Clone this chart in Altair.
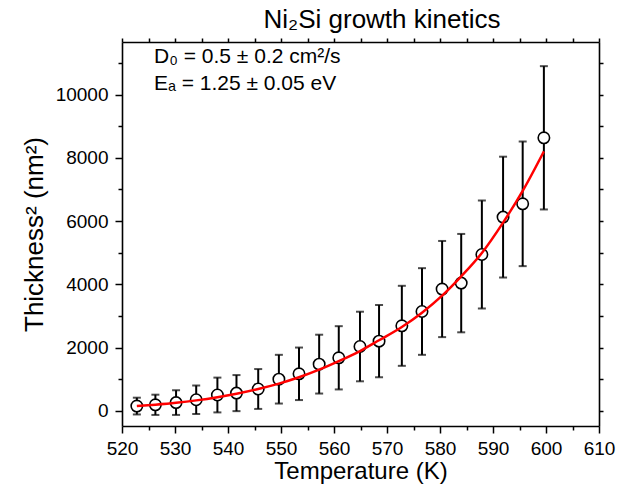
import altair as alt
import pandas as pd

# ---- data ----
temps = [522.8, 526.3, 530.2, 534.0, 538.0, 541.6, 545.7, 549.6, 553.4, 557.2, 560.9,
         564.9, 568.5, 572.8, 576.6, 580.4, 584.0, 587.9, 591.9, 595.6, 599.6]
thick2 = [150, 190, 260, 350, 500, 560, 690, 1000, 1170, 1476, 1676,
          2033, 2203, 2687, 3140, 3850, 4037, 4942, 6124, 6544, 8631]
errs = [265, 320, 390, 450, 550, 570, 630, 770, 830, 930, 1000,
        1100, 1140, 1265, 1370, 1520, 1555, 1707, 1910, 1970, 2265]
fit_vals = [150, 195, 255, 330, 430, 540, 690, 860, 1060, 1300, 1570,
            1890, 2230, 2650, 3100, 3640, 4250, 4990, 5950, 6950, 8200]

x_ticks = list(range(520, 611, 5))
y_ticks = list(range(0, 11001, 1000))

title_text = "Ni₂Si growth kinetics"
ann_lines = ["D₀ = 0.5 ± 0.2 cm²/s", "Eₐ = 1.25 ± 0.05 eV"]
x_title = "Temperature (K)"
y_title = "Thickness² (nm²)"

# ---- chart ----
W, H = 477, 384
FONT = "Liberation Sans"

df = pd.DataFrame({
    "T": temps,
    "y": thick2,
    "lo": [a - b for a, b in zip(thick2, errs)],
    "hi": [a + b for a, b in zip(thick2, errs)],
    "fit": fit_vals,
})

xscale = alt.Scale(domain=[520, 610], nice=False, zero=False)
yscale = alt.Scale(domain=[-480, 11660], nice=False, zero=False)

common_axis = dict(grid=False, domainColor="black", domainWidth=1.6, tickColor="black",
                   tickWidth=1.5, labelColor="black", titleColor="black",
                   labelFont=FONT, titleFont=FONT, titleFontWeight="normal",
                   labelOverlap=False, labelFlush=False)

x_axis = alt.Axis(orient="bottom", values=x_ticks, format="d",
                  labelExpr="datum.value % 10 === 0 ? datum.label : ''",
                  tickSize={"condition": {"test": "datum.value % 10 === 0", "value": 7}, "value": 4},
                  labelFontSize=19, titleFontSize=24, labelPadding=6, titlePadding=1,
                  **common_axis)
y_axis = alt.Axis(orient="left", values=y_ticks, format="d",
                  labelExpr="datum.value % 2000 === 0 ? datum.label : ''",
                  tickSize={"condition": {"test": "datum.value % 2000 === 0", "value": 7}, "value": 4},
                  labelFontSize=19, titleFontSize=26, labelPadding=7, titlePadding=8,
                  **common_axis)
top_axis = alt.Axis(orient="top", values=x_ticks, labels=False, tickSize=4, title=None,
                    **common_axis)
right_axis = alt.Axis(orient="right", values=y_ticks, labels=False, tickSize=4, title=None,
                      **common_axis)

base = alt.Chart(df)
xN = alt.X("T:Q", scale=xscale, axis=None)

frame_main = base.mark_point(opacity=0).encode(
    x=alt.X("T:Q", scale=xscale, axis=x_axis, title=x_title),
    y=alt.Y("y:Q", scale=yscale, axis=y_axis, title=y_title),
)
frame_mirror = base.mark_point(opacity=0).encode(
    x=alt.X("T:Q", scale=xscale, axis=top_axis),
    y=alt.Y("y:Q", scale=yscale, axis=right_axis),
)
bars = base.mark_rule(color="black", strokeWidth=2).encode(
    x=xN, y=alt.Y("lo:Q", scale=yscale, axis=None), y2="hi:Q")
caps_lo = base.mark_tick(color="black", orient="horizontal", size=8, thickness=2).encode(
    x=xN, y=alt.Y("lo:Q", scale=yscale, axis=None))
caps_hi = base.mark_tick(color="black", orient="horizontal", size=8, thickness=2).encode(
    x=xN, y=alt.Y("hi:Q", scale=yscale, axis=None))
pts = base.mark_point(shape="circle", fill="white", fillOpacity=1, stroke="black",
                      strokeWidth=1.6, size=130, opacity=1).encode(
    x=xN, y=alt.Y("y:Q", scale=yscale, axis=None))
line = base.mark_line(color="#ff0000", strokeWidth=2.5, interpolate="monotone").encode(
    x=xN, y=alt.Y("fit:Q", scale=yscale, axis=None))

title_mark = alt.Chart(pd.DataFrame({"t": [title_text]})).mark_text(
    font=FONT, fontSize=26, align="center", baseline="alphabetic", color="black").encode(
    text="t:N", x=alt.value(260), y=alt.value(-14))
ann1 = alt.Chart(pd.DataFrame({"t": [ann_lines[0]]})).mark_text(
    font=FONT, fontSize=21, align="left", baseline="alphabetic", color="black").encode(
    text="t:N", x=alt.value(32), y=alt.value(21))
ann2 = alt.Chart(pd.DataFrame({"t": [ann_lines[1]]})).mark_text(
    font=FONT, fontSize=21, align="left", baseline="alphabetic", color="black").encode(
    text="t:N", x=alt.value(32), y=alt.value(48))

chart = alt.layer(frame_main, frame_mirror, bars, caps_lo, caps_hi, pts, line,
                  title_mark, ann1, ann2).resolve_axis(
    x="independent", y="independent"
).properties(
    width=W, height=H,
    autosize=alt.AutoSizeParams(type="none"),
    padding={"left": 114, "top": 34, "right": 19, "bottom": 58},
    background="white",
).configure_view(stroke=None)

chart.save("out.html", embed_options={"renderer": "svg", "actions": False})
